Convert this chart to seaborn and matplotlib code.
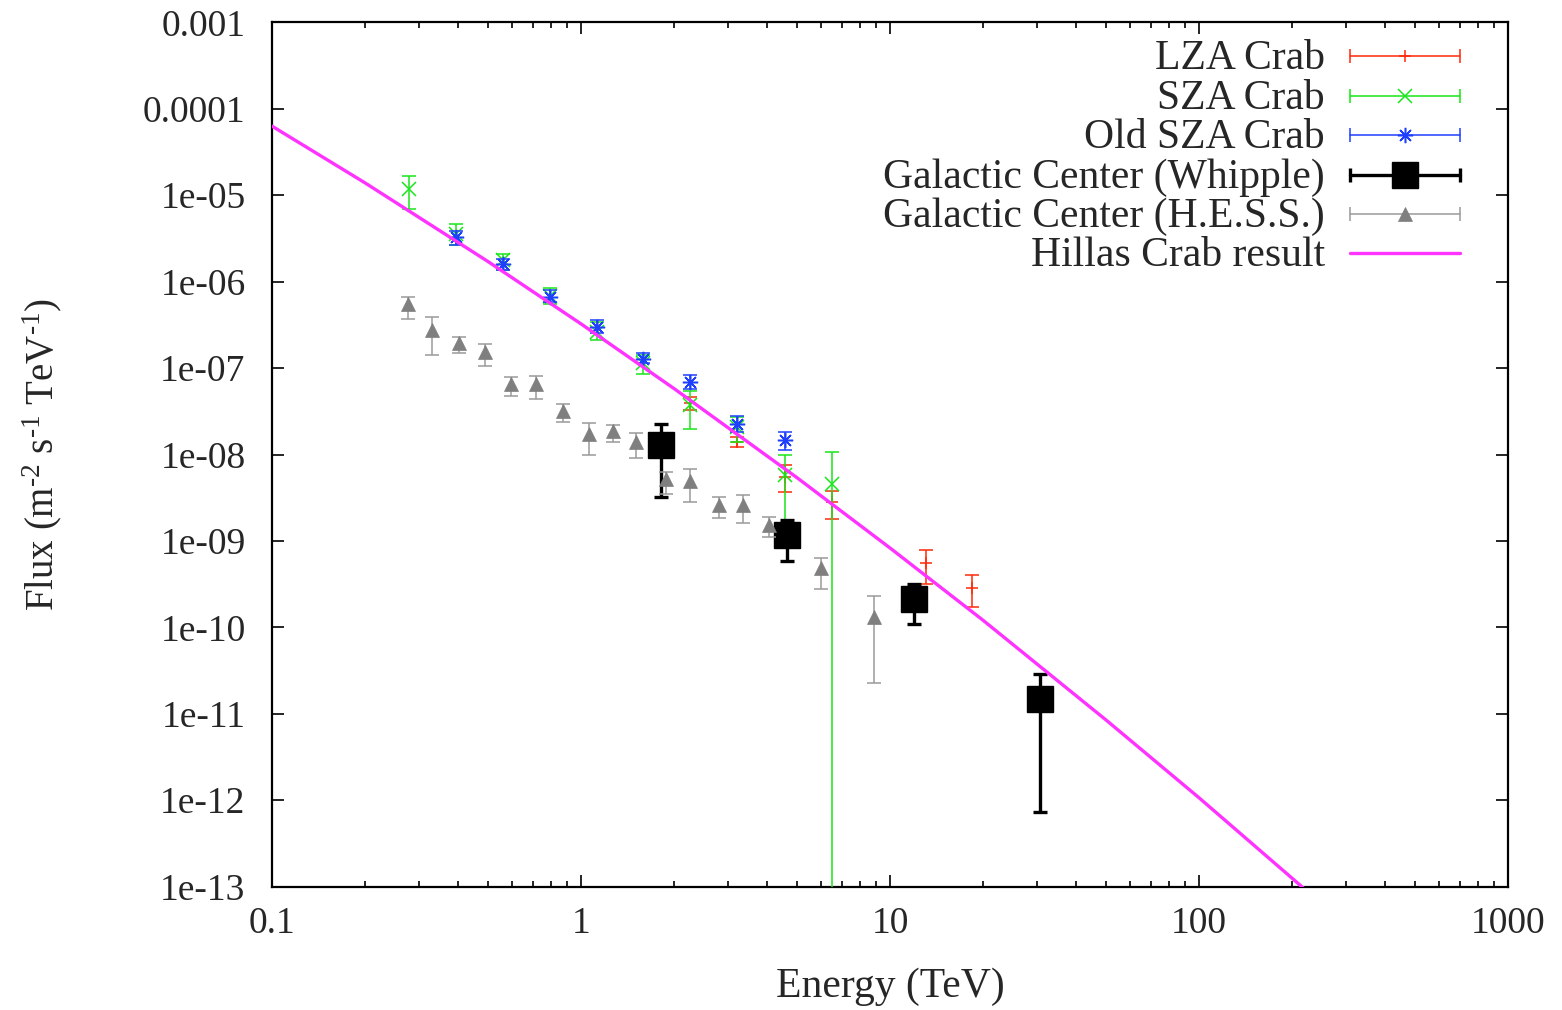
import numpy as np
import pandas as pd
import matplotlib
matplotlib.use("Agg")
import matplotlib.pyplot as plt
import seaborn as sns

# ---------------- data (TeV, m^-2 s^-1 TeV^-1) ----------------
lza_energy = [2.25, 3.21, 4.57, 6.47, 13.05, 18.45]
lza_flux = [3.9e-8, 1.4e-8, 5.5e-9, 2.8e-9, 5.6e-10, 2.86e-10]
lza_hi = [4.6e-8, 1.6e-8, 7.5e-9, 3.76e-9, 7.9e-10, 4.0e-10]
lza_lo = [3.3e-8, 1.22e-8, 3.7e-9, 1.8e-9, 3.2e-10, 1.71e-10]

sza_energy = [0.278, 0.394, 0.559, 0.794, 1.13, 1.59, 2.25, 3.21, 4.57, 6.47]
sza_flux = [1.17e-5, 3.6e-6, 1.77e-6, 6.9e-7, 2.6e-7, 1.13e-7, 3.7e-8, 2.08e-8, 5.75e-9, 4.5e-9]
sza_hi = [1.66e-5, 4.6e-6, 2.1e-6, 8.5e-7, 3.43e-7, 1.41e-7, 5.5e-8, 2.72e-8, 9.8e-9, 1.07e-8]
sza_lo = [6.97e-6, 2.62e-6, 1.36e-6, 5.5e-7, 2.1e-7, 8.65e-8, 1.96e-8, 1.38e-8, 1.5e-9, 1e-16]

old_energy = [0.394, 0.559, 0.794, 1.13, 1.59, 2.25, 3.21, 4.57]
old_flux = [3.25e-6, 1.6e-6, 6.67e-7, 3.0e-7, 1.26e-7, 6.9e-8, 2.26e-8, 1.47e-8]
old_hi = [3.84e-6, 1.84e-6, 7.97e-7, 3.58e-7, 1.5e-7, 8.3e-8, 2.77e-8, 1.8e-8]
old_lo = [2.67e-6, 1.36e-6, 5.8e-7, 2.54e-7, 1.13e-7, 5.65e-8, 1.83e-8, 1.12e-8]

whipple_energy = [1.81, 4.64, 11.93, 30.7]
whipple_flux = [1.28e-8, 1.16e-9, 2.11e-10, 1.47e-11]
whipple_hi = [2.24e-8, 1.77e-9, 3.2e-10, 2.85e-11]
whipple_lo = [3.2e-9, 5.86e-10, 1.08e-10, 7.4e-13]

hess_energy = [0.275, 0.330, 0.404, 0.490, 0.594, 0.713, 0.874, 1.06, 1.27,
               1.51, 1.89, 2.25, 2.79, 3.35, 4.07, 5.98, 8.89]
hess_flux = [5.5e-7, 2.75e-7, 1.96e-7, 1.54e-7, 6.6e-8, 6.6e-8, 3.17e-8, 1.72e-8, 1.87e-8,
             1.4e-8, 5.2e-9, 5.0e-9, 2.6e-9, 2.6e-9, 1.52e-9, 4.8e-10, 1.32e-10]
hess_hi = [6.67e-7, 3.86e-7, 2.28e-7, 1.88e-7, 7.9e-8, 8.2e-8, 3.8e-8, 2.32e-8, 2.18e-8,
           1.75e-8, 6.3e-9, 6.8e-9, 3.2e-9, 3.4e-9, 1.87e-9, 6.4e-10, 2.29e-10]
hess_lo = [3.7e-7, 1.41e-7, 1.49e-7, 1.07e-7, 4.73e-8, 4.4e-8, 2.35e-8, 1.0e-8, 1.4e-8,
           9.2e-9, 3.5e-9, 2.8e-9, 1.85e-9, 1.63e-9, 1.11e-9, 2.8e-10, 2.25e-11]

hillas_energy = [0.1, 0.2, 0.5, 1, 2, 5, 10, 20, 50, 100, 210, 250]
hillas_flux = [6.3e-5, 1.39e-5, 1.71e-6, 3.25e-7, 5.8e-8, 5.4e-9, 8.3e-10,
               1.21e-10, 8.5e-12, 1.07e-12, 1.08e-13, 6.2e-14]

x_ticks = [0.1, 1, 10, 100, 1000]
x_tick_labels = ["0.1", "1", "10", "100", "1000"]
y_ticks = [1e-3, 1e-4, 1e-5, 1e-6, 1e-7, 1e-8, 1e-9, 1e-10, 1e-11, 1e-12, 1e-13]
y_tick_labels = ["0.001", "0.0001", "1e-05", "1e-06", "1e-07", "1e-08", "1e-09",
                 "1e-10", "1e-11", "1e-12", "1e-13"]

labels = ["LZA Crab", "SZA Crab", "Old SZA Crab", "Galactic Center (Whipple)",
          "Galactic Center (H.E.S.S.)", "Hillas Crab result"]

# ---------------- style ----------------
sns.set_theme(style="ticks")
plt.rcParams["font.family"] = ["Liberation Serif", "DejaVu Serif"]
plt.rcParams["mathtext.fontset"] = "custom"
plt.rcParams["mathtext.rm"] = "Liberation Serif"
plt.rcParams["mathtext.it"] = "Liberation Serif:italic"
plt.rcParams["axes.unicode_minus"] = False

RED = "#ff2a0a"
GREEN = "#19e619"
BLUE = "#1f3fff"
BLACK = "#000000"
GREY_M = "#7f7f7f"
GREY_E = "#9a9a9a"
MAGENTA = "#ff33ff"
FS_TICK = 27
FS_TEXT = 30

fig = plt.figure(figsize=(15.62, 10.10), dpi=100)
ax = fig.add_axes([0.1741, 0.1221, 0.7913, 0.8558])


def yerr(flux, lo, hi):
    f = np.asarray(flux)
    return [f - np.asarray(lo), np.asarray(hi) - f]


series = [
    dict(x=lza_energy, y=lza_flux, lo=lza_lo, hi=lza_hi, color=RED, ecolor=RED,
         marker="+", ms=9, mew=1.1, lw=1.1, cap=4.7, z=3),
    dict(x=sza_energy, y=sza_flux, lo=sza_lo, hi=sza_hi, color=GREEN, ecolor=GREEN,
         marker="x", ms=10, mew=1.1, lw=1.1, cap=4.7, z=4),
    dict(x=old_energy, y=old_flux, lo=old_lo, hi=old_hi, color=BLUE, ecolor=BLUE,
         marker=(8, 2, 0), ms=11, mew=1.1, lw=1.1, cap=4.7, z=5),
    dict(x=whipple_energy, y=whipple_flux, lo=whipple_lo, hi=whipple_hi, color=BLACK,
         ecolor=BLACK, marker="s", ms=19, mew=1, lw=2.4, cap=5, z=6),
    dict(x=hess_energy, y=hess_flux, lo=hess_lo, hi=hess_hi, color=GREY_M, ecolor=GREY_E,
         marker="^", ms=9.5, mew=0.5, lw=1.1, cap=4.7, z=7),
]

for s in series:
    ax.errorbar(s["x"], s["y"], yerr=yerr(s["y"], s["lo"], s["hi"]), fmt="none",
                ecolor=s["ecolor"], elinewidth=s["lw"], capsize=s["cap"],
                capthick=s["lw"], zorder=s["z"])
    ax.plot(s["x"], s["y"], linestyle="none", marker=s["marker"], ms=s["ms"],
            mew=s["mew"], color=s["color"], mec=s["color"], zorder=s["z"] + 0.1)

hillas = pd.DataFrame({"energy": hillas_energy, "flux": hillas_flux})
sns.lineplot(data=hillas, x="energy", y="flux", ax=ax, color=MAGENTA, lw=2.4,
             zorder=10, sort=False)

ax.set_xscale("log")
ax.set_yscale("log")
ax.set_xlim(0.1, 1000)
ax.set_ylim(1e-13, 1e-3)

ax.set_xticks(x_ticks)
ax.set_xticklabels(x_tick_labels)
ax.set_yticks(y_ticks)
ax.set_yticklabels(y_tick_labels)
ax.yaxis.set_minor_locator(matplotlib.ticker.NullLocator())
ax.xaxis.set_minor_locator(matplotlib.ticker.LogLocator(base=10, subs=np.arange(2, 10)))
ax.xaxis.set_minor_formatter(matplotlib.ticker.NullFormatter())

ax.tick_params(which="both", direction="in", top=True, right=True, labelsize=FS_TICK,
               color="black", width=1.2)
ax.tick_params(which="major", length=8.5)
ax.tick_params(which="minor", length=4)
ax.tick_params(axis="y", pad=19)
ax.tick_params(axis="x", pad=14)
for sp in ax.spines.values():
    sp.set_linewidth(1.6)
    sp.set_color("black")
    sp.set_visible(True)

ax.set_xlabel("Energy (TeV)", fontsize=FS_TEXT)
ax.set_ylabel("Flux (m$^{\u2010\mathrm{2}}$ s$^{\u2010\mathrm{1}}$ TeV$^{\u2010\mathrm{1}}$)",
              fontsize=28)
ax.xaxis.set_label_coords(0.5, -0.093)
ax.yaxis.set_label_coords(-0.168, 0.5)

# key in the gnuplot manner: text right-aligned, sample to its right
text_x = 0.852
x0, x1, xc = 0.872, 0.961, 0.9167
rows = [0.9612, 0.9149, 0.8698, 0.8235, 0.7784, 0.7333]
tr = ax.transAxes
for i, (lab, yy) in enumerate(zip(labels, rows)):
    ax.text(text_x, yy - 0.003, lab, transform=tr, ha="right", va="center",
            fontsize=FS_TEXT)
    if i < 5:
        s = series[i]
        ax.plot([x0, x1], [yy, yy], transform=tr, color=s["ecolor"], lw=s["lw"],
                clip_on=False, zorder=12)
        ax.plot([x0, x1], [yy, yy], transform=tr, linestyle="none", marker="|",
                ms=2 * s["cap"], mew=s["lw"], color=s["ecolor"], clip_on=False, zorder=12)
        ax.plot([xc], [yy], transform=tr, linestyle="none", marker=s["marker"],
                ms=s["ms"], mew=s["mew"], color=s["color"], mec=s["color"],
                clip_on=False, zorder=13)
    else:
        ax.plot([x0, x1], [yy, yy], transform=tr, color=MAGENTA, lw=2.4,
                clip_on=False, zorder=12)

fig.savefig("out.png", dpi=100, facecolor="white")
